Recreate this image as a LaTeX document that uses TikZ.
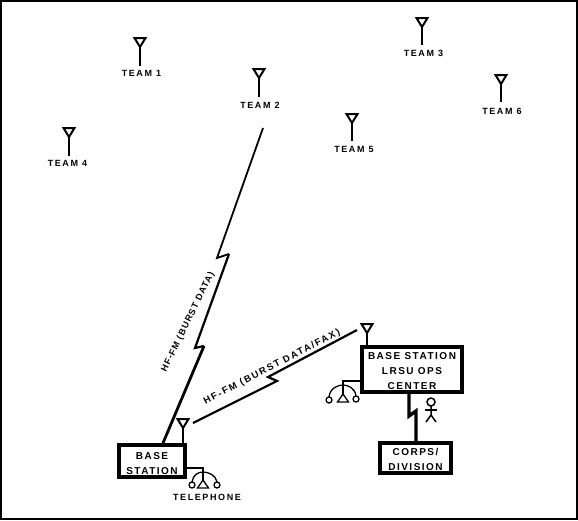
\documentclass[tikz,border=0pt]{standalone}
\usepackage{fontspec}
\setmainfont{Liberation Sans}
\newfontfamily\teamf{Liberation Sans}[LetterSpace=18]
\newfontfamily\linkaf{Liberation Sans}[LetterSpace=12]
\newfontfamily\linkbf{Liberation Sans}[LetterSpace=18]
\newfontfamily\boxf{Liberation Sans}[LetterSpace=15]
\usetikzlibrary{calc}
\tikzset{
  lbl/.style={font=\teamf\bfseries\fontsize{9}{12}\selectfont,inner sep=0pt,align=center},
  linka/.style={font=\linkaf\bfseries\fontsize{9}{12}\selectfont,inner sep=0pt},
  linkb/.style={font=\linkbf\bfseries\fontsize{9.5}{12}\selectfont,inner sep=0pt},
  box/.style={draw,line width=3.6pt,rectangle,inner sep=0pt,font=\boxf\bfseries\fontsize{10}{15}\selectfont},
  antri/.style={line width=2pt,line join=miter},
  stem/.style={line width=1.5pt},
  bolt/.style={line width=2.2pt,line join=miter,line cap=butt},
  phone/.style={line width=1.3pt},
  wire/.style={line width=1.7pt},
  person/.style={line width=1.5pt}
}
\newcommand{\boxtext}[2][-4.5pt]{\smash{\raisebox{#1}{\begin{tabular}{@{}c@{}}#2\end{tabular}}}}
\newcommand{\antenna}[4]{% name x ytop ybottom
  \coordinate (#1top) at (#2,#3);
  \coordinate (#1apex) at (#2,#3+10);
  \coordinate (#1foot) at (#2,#4);
  \draw[antri] (#2-5.5,#3+1) -- (#2+5.5,#3+1) -- (#1apex) -- cycle;
  \draw[stem] (#1apex) -- (#1foot);
}
\newcommand{\phoneset}[8]{% hub x, hub y, apex y, base y, left cx, left cy, right cx, right cy
  \coordinate (ph) at (#1,#2);
  \draw[phone] (ph) -- (#1,#3);
  \draw[phone] (#1,#3) -- (#1-5.5,#4) -- (#1+5.5,#4) -- cycle;
  \draw[phone] (#5,#6) circle (3pt);
  \draw[phone] (#7,#8) circle (3pt);
  \draw[phone] (#5,#6-3) .. controls (#5+1,#2+3) and (#1-5,#2) .. (ph);
  \draw[phone] (#7,#8-3) .. controls (#7-1,#2+3) and (#1+5,#2) .. (ph);
}
\begin{document}
\begin{tikzpicture}[x=1pt,y=-1pt]
\useasboundingbox (0,0) rectangle (578,520);
\draw[line width=2.5pt] (1.2,1.2) rectangle (576.8,518.8);

\antenna{tone}{140}{37}{66}
\antenna{ttwo}{259}{68}{97}
\antenna{tthree}{422}{17}{45}
\antenna{tfour}{69}{127}{156}
\antenna{tfive}{352}{113}{141}
\antenna{tsix}{501}{74}{102}
\node[lbl] (l1) at (141.5,73) {TEAM 1};
\node[lbl] (l2) at (260,105) {TEAM 2};
\node[lbl] (l3) at (423.5,53) {TEAM 3};
\node[lbl] (l4) at (67.5,163) {TEAM 4};
\node[lbl] (l5) at (354,149) {TEAM 5};
\node[lbl] (l6) at (502,111) {TEAM 6};

\node[box,minimum width=66pt,minimum height=32pt] (bs) at (152,461) {\boxtext[-5pt]{BASE\\STATION}};
\node[box,line width=4pt,minimum width=100pt,minimum height=45pt] (ops) at (412,369.5) {\boxtext{BASE STATION\\LRSU OPS\\CENTER}};
\node[box,minimum width=71.5pt,minimum height=30.5pt] (corps) at (415.5,458) {\boxtext[-4pt]{CORPS/\\DIVISION}};
\node[lbl] (tel) at (207,497) {TELEPHONE};

% antennas on the base stations
\antenna{abs}{183}{418}{444}
\antenna{aops}{367}{323}{346}

% HF links
\coordinate (t2end) at (263,128);
\coordinate (b1) at (217,258);
\coordinate (b2) at (229,254);
\coordinate (b3) at (195,348);
\coordinate (b4) at (204,346);
\coordinate (bsin) at (163,443);
\draw[bolt,line width=1.8pt] (t2end) -- (b1) -- (b2);
\draw[bolt] (b2) -- (b3) -- (b4);
\draw[bolt,line width=2.8pt] (b4) -- (bsin);
\coordinate (bsout) at (193,423);
\coordinate (opsin) at (357,330);
\draw[bolt] (bsout) -- (277,381) -- (268,377) -- (opsin);
\node[linka,rotate=64] (lk1) at (188,322) {HF-FM (BURST DATA)};
\node[linkb,rotate=27.6] (lk2) at (272,367) {HF-FM (BURST DATA/FAX)};

% ops to corps
\coordinate (opsb) at (409,392);
\coordinate (corpst) at (416,442);
\draw[line width=3.4pt,line join=miter] (opsb) -- (409,416) -- (416,411) -- (corpst);

% telephones
\coordinate (bsr) at (187,468);
\draw[wire] (bsr) -- (203,468) -- (203,472);
\phoneset{203}{472}{480}{488}{192}{485}{217}{485}
\coordinate (opsl) at (360,381);
\draw[wire] (opsl) -- (343,381) -- (343,385);
\phoneset{343}{385}{394}{402}{329}{400}{356}{399}

% person
\draw[person] (431,402) circle (4pt);
\draw[person] (431,406) -- (431,415) -- (426,422);
\draw[person] (431,415) -- (436,422);
\draw[person] (425,410) -- (437,410);
\end{tikzpicture}
\end{document}
